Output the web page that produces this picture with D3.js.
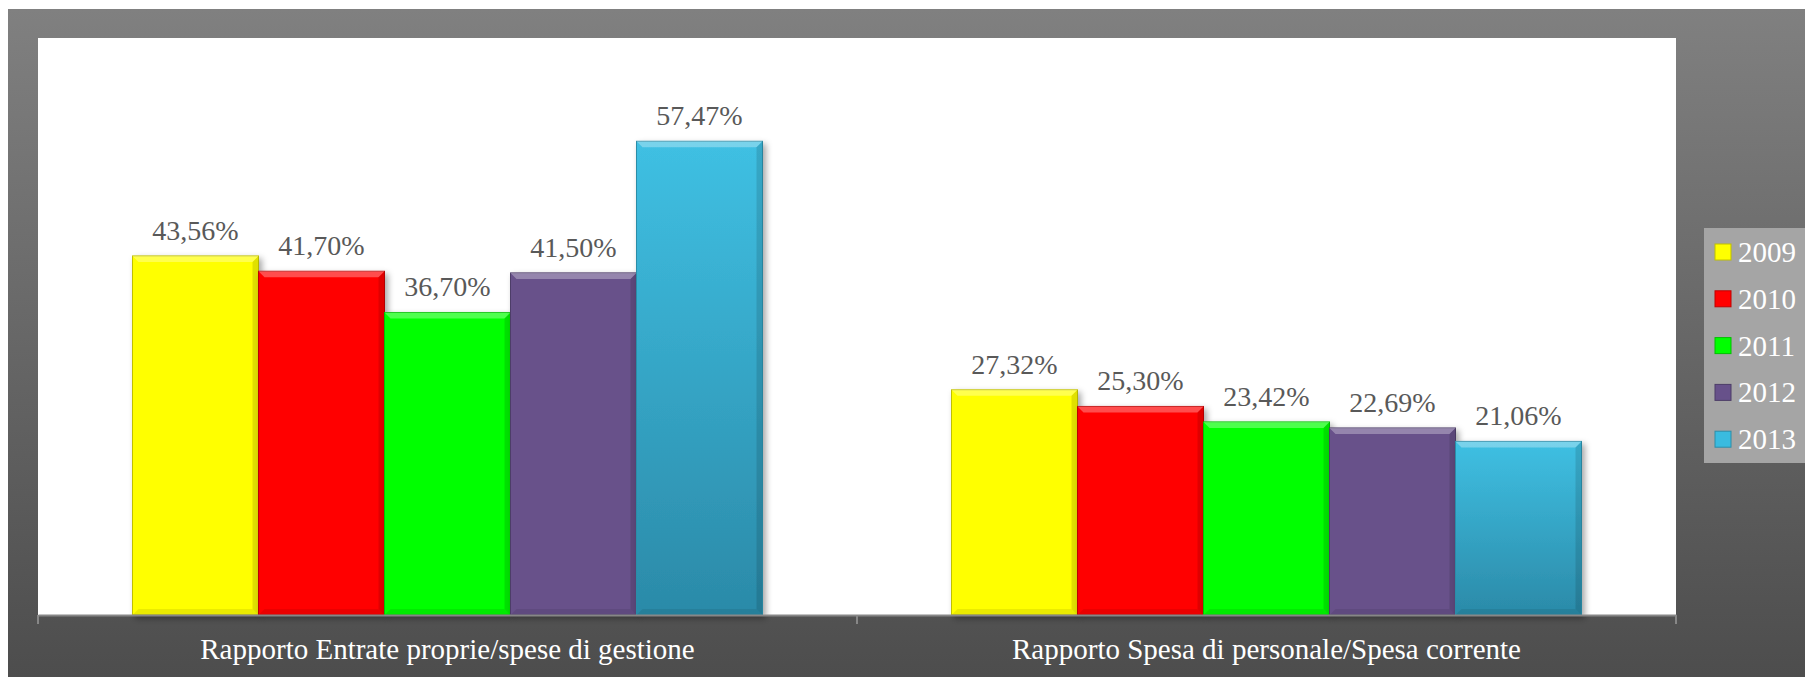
<!DOCTYPE html>
<html>
<head>
<meta charset="utf-8">
<script src="https://cdn.jsdelivr.net/npm/d3@7"></script>
<style>
  body { margin: 0; background: #fff; }
  svg { display: block; }
  text { font-family: 'Liberation Serif', 'DejaVu Serif', serif; }
</style>
</head>
<body>
<div class="chart"></div>
<script>
const categories = [
  'Rapporto Entrate proprie/spese di gestione',
  'Rapporto Spesa di personale/Spesa corrente'
];
const years = ['2009', '2010', '2011', '2012', '2013'];
const values2009 = [43.56, 27.32];
const values2010 = [41.70, 25.30];
const values2011 = [36.70, 23.42];
const values2012 = [41.50, 22.69];
const values2013 = [57.47, 21.06];
const seriesValues = [values2009, values2010, values2011, values2012, values2013];
const colors = ['#ffff00', '#ff0000', '#00ff00', '#67518a', '#3abbdf'];

function displayChart() {
  const w = 1805;
  const h = 677;
  const plot = { left: 38, right: 1676, top: 38, bottom: 615 };

  const svg = d3.select('.chart')
    .append('svg')
    .attr('width', w)
    .attr('height', h);

  const defs = svg.append('defs');

  const bg = defs.append('linearGradient')
    .attr('id', 'bg')
    .attr('x1', 0).attr('y1', 0).attr('x2', 0).attr('y2', 1);
  bg.append('stop').attr('offset', '0%').attr('stop-color', '#808080');
  bg.append('stop').attr('offset', '100%').attr('stop-color', '#4d4d4d');

  const cyan = defs.append('linearGradient')
    .attr('id', 'cyan')
    .attr('x1', 0).attr('y1', 0).attr('x2', 0).attr('y2', 1);
  cyan.append('stop').attr('offset', '0%').attr('stop-color', '#3fc0e3');
  cyan.append('stop').attr('offset', '100%').attr('stop-color', '#2b8aa8');

  const shadow = defs.append('filter')
    .attr('id', 'shadow')
    .attr('x', '-10%').attr('y', '-10%').attr('width', '130%').attr('height', '130%');
  shadow.append('feDropShadow')
    .attr('dx', 3).attr('dy', 3).attr('stdDeviation', 3)
    .attr('flood-color', '#000').attr('flood-opacity', 0.35);

  // outer frame
  svg.append('rect')
    .attr('x', 8)
    .attr('y', 9)
    .attr('width', w - 8)
    .attr('height', h - 9)
    .attr('fill', 'url(#bg)');

  // plot area
  svg.append('rect')
    .attr('x', plot.left)
    .attr('y', plot.top)
    .attr('width', plot.right - plot.left)
    .attr('height', plot.bottom - plot.top)
    .attr('fill', '#fff');

  const x0 = d3.scaleBand()
    .domain(categories)
    .range([plot.left, plot.right])
    .padding(0);

  const x1 = d3.scaleBand()
    .domain(years)
    .range([0, x0.bandwidth()])
    .paddingInner(0)
    .paddingOuter(0.75);

  const yScale = d3.scaleLinear()
    .domain([0, 70])
    .range([plot.bottom, plot.top]);

  const bars = [];
  categories.forEach((c, ci) => {
    years.forEach((yr, si) => {
      bars.push({ cat: c, year: yr, si: si, value: seriesValues[si][ci] });
    });
  });

  const g = svg.append('g');

  const bar = g.selectAll('g.bar')
    .data(bars)
    .enter()
    .append('g')
    .attr('class', 'bar');

  bar.append('rect')
    .attr('x', d => x0(d.cat) + x1(d.year))
    .attr('y', d => yScale(d.value))
    .attr('width', x1.bandwidth())
    .attr('height', d => yScale(0) - yScale(d.value))
    .attr('fill', d => d.si === 4 ? 'url(#cyan)' : colors[d.si])
    .attr('stroke', d => d3.color(colors[d.si]).darker(0.8))
    .attr('stroke-width', 1)
    .attr('filter', 'url(#shadow)');

  // bevel: lighter top edge, darker right edge
  const bev = 6;
  bar.append('path')
    .attr('d', d => {
      const xl = x0(d.cat) + x1(d.year);
      const xr = xl + x1.bandwidth();
      const yt = yScale(d.value);
      return `M${xl},${yt}L${xr},${yt}L${xr - bev},${yt + bev}L${xl + bev},${yt + bev}Z`;
    })
    .attr('fill', '#fff')
    .attr('opacity', 0.3);

  bar.append('path')
    .attr('d', d => {
      const xl = x0(d.cat) + x1(d.year);
      const xr = xl + x1.bandwidth();
      const yt = yScale(d.value);
      const yb = yScale(0);
      return `M${xr},${yt}L${xr},${yb}L${xr - bev},${yb - bev}L${xr - bev},${yt + bev}Z`;
    })
    .attr('fill', '#000')
    .attr('opacity', 0.12);

  bar.append('path')
    .attr('d', d => {
      const xl = x0(d.cat) + x1(d.year);
      const xr = xl + x1.bandwidth();
      const yb = yScale(0);
      return `M${xl},${yb}L${xr},${yb}L${xr - bev},${yb - bev}L${xl + bev},${yb - bev}Z`;
    })
    .attr('fill', '#000')
    .attr('opacity', 0.08);

  bar.append('text')
    .attr('x', d => x0(d.cat) + x1(d.year) + x1.bandwidth() / 2)
    .attr('y', d => yScale(d.value) - 16)
    .attr('text-anchor', 'middle')
    .attr('font-size', 28)
    .attr('fill', '#595959')
    .text(d => d.value.toFixed(2).replace('.', ',') + '%');

  // x axis
  const xAxis = svg.append('g')
    .attr('class', 'x-axis')
    .attr('transform', `translate(0, ${plot.bottom})`)
    .call(d3.axisBottom(x0).tickSize(0).tickPadding(23));

  xAxis.select('.domain')
    .attr('stroke', '#878787')
    .attr('stroke-width', 2);

  xAxis.selectAll('text')
    .attr('font-size', 29)
    .attr('fill', '#fff')
    .attr('font-family', "'Liberation Serif', serif");

  const tickPos = [plot.left].concat(categories.map(c => x0(c) + x0.bandwidth()));
  xAxis.selectAll('line.sep')
    .data(tickPos)
    .enter()
    .append('line')
    .attr('class', 'sep')
    .attr('x1', d => d)
    .attr('x2', d => d)
    .attr('y1', 0)
    .attr('y2', 9)
    .attr('stroke', '#878787')
    .attr('stroke-width', 2);

  // legend
  const legend = svg.append('g')
    .attr('class', 'legend')
    .attr('transform', 'translate(1704, 228)');

  legend.append('rect')
    .attr('width', w - 1704)
    .attr('height', 235)
    .attr('fill', '#a5a5a5');

  const item = legend.selectAll('g.item')
    .data(years)
    .enter()
    .append('g')
    .attr('class', 'item')
    .attr('transform', (d, i) => `translate(11, ${24 + i * 46.8})`);

  item.append('rect')
    .attr('x', 0)
    .attr('y', -8)
    .attr('width', 16)
    .attr('height', 16)
    .attr('fill', (d, i) => colors[i])
    .attr('stroke', (d, i) => d3.color(colors[i]).darker(0.8));

  item.append('text')
    .attr('x', 23)
    .attr('y', 10)
    .attr('font-size', 29)
    .attr('fill', '#fff')
    .text(d => d);
}

displayChart();
</script>
</body>
</html>
